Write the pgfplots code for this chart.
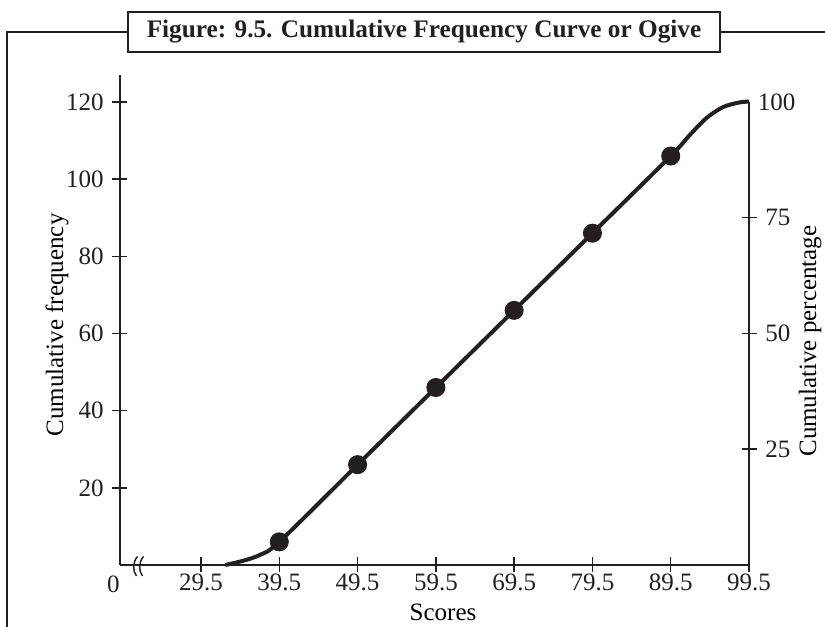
\documentclass[border=0pt]{standalone}
\usepackage{fontspec}
\setmainfont{Liberation Serif}
\usepackage{pgfplots}
\usepackage{pgfplotstable}
\pgfplotsset{compat=1.18}

\definecolor{ink}{HTML}{231F20}

% cumulative frequencies at the upper class boundaries (N = 120)
\pgfplotstableread{
x cf
32.6 0
34.9 1.1
37.0 2.6
39.5 6
49.5 26
59.5 46
69.5 66
79.5 86
89.5 106
92.0 111.6
94.1 115.9
96.2 118.7
98.3 119.9
99.5 120.1
}\ogive

\pgfplotstableread{
x cf
39.5 6
49.5 26
59.5 46
69.5 66
79.5 86
89.5 106
}\points

\begin{document}
\begin{tikzpicture}[font=\fontsize{10}{12}\selectfont]
\useasboundingbox (-48pt,-24.8pt) rectangle (282pt,226pt);

% outer frame and title box
\draw[ink, line width=0.6pt] (-45.2pt,-30pt) -- (-45.2pt,213.2pt) -- (290pt,213.2pt);
\node[draw=ink, fill=white, line width=0.6pt, inner sep=0pt,
      minimum width=236.8pt, minimum height=16pt,
      font=\bfseries\fontsize{10.1}{12}\selectfont, text=ink]
  at (121.6pt,213.2pt) {Figure: 9.5. Cumulative Frequency Curve or Ogive};

\pgfplotsset{
  ogive base/.style={
    at={(0,0)}, anchor=south west,
    scale only axis, width=251.6pt, height=196pt,
    xmin=19.15, xmax=99.5,
    tick align=inside, major tick length=6pt,
    tick style={ink, line width=0.6pt},
    ticklabel style={text=ink},
    /pgf/number format/assume math mode=true,
    label style={text=ink},
    clip=false,
  }
}

\begin{axis}[
  ogive base,
  ymin=0, ymax=127,
  axis x line=bottom, axis y line=left,
  axis line style={-, ink, line width=0.6pt},
  xtick={29.5,39.5,49.5,59.5,69.5,79.5,89.5,99.5},
  xticklabels={29.5,39.5,49.5,59.5,69.5,79.5,89.5,99.5},
  xticklabel style={yshift=3.1pt},
  ytick={20,40,60,80,100,120},
  xlabel={Scores},
  ylabel={Cumulative frequency},
  every axis x label/.style={at={(axis description cs:0.5135,-0.096)}, anchor=center},
  every axis y label/.style={at={(axis description cs:-0.100,0.49)}, rotate=90, anchor=center},
]
\addplot[ink, line width=1.6pt, smooth, tension=0.5] table[x=x, y=cf] {\ogive};
\addplot[only marks, mark=*, mark size=3.6pt, ink] table[x=x, y=cf] {\points};
\end{axis}

\begin{axis}[
  ogive base,
  ymin=0, ymax=105.8333,
  axis x line=none, axis y line=right,
  axis line style={draw=none},
  ytick={25,50,75},
  extra y ticks={100},
  extra y tick style={major tick length=0pt},
  ylabel={Cumulative percentage},
  every axis y label/.style={at={(axis description cs:1.097,0.457)}, rotate=90, anchor=center},
]
\draw[ink, line width=0.6pt] (axis cs:99.5,0) -- (axis cs:99.5,100.1);
\end{axis}

% zero at the corner and the axis break
\node[text=ink] at (-2.6pt,-7.8pt) {0};
\draw[ink, line width=0.6pt] (6.6pt,-4.4pt) .. controls (5.0pt,-2.2pt) and (5.0pt,1.0pt) .. (7.0pt,3.4pt);
\draw[ink, line width=0.6pt] (9.0pt,-4.4pt) .. controls (7.4pt,-2.2pt) and (7.4pt,1.0pt) .. (9.4pt,3.4pt);
\end{tikzpicture}
\end{document}
